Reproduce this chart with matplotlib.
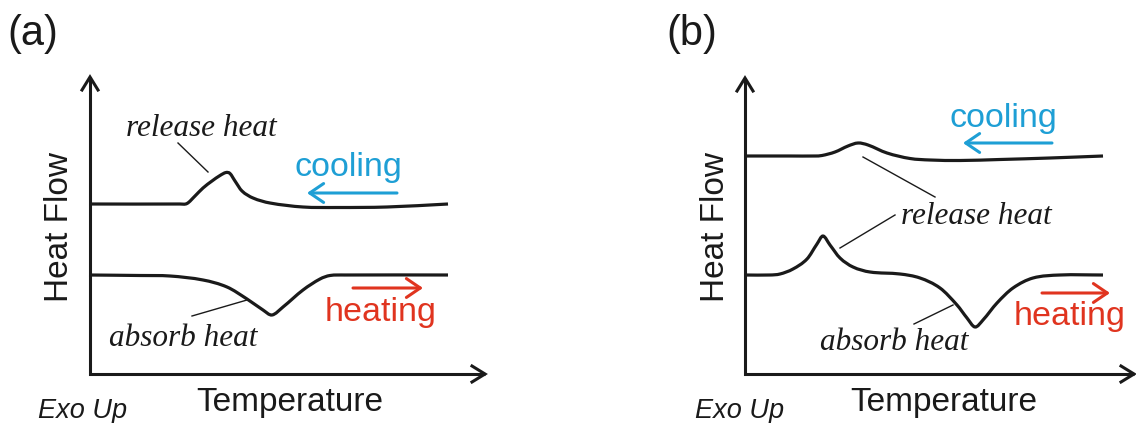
import matplotlib
matplotlib.use("Agg")
import matplotlib.pyplot as plt
from matplotlib.path import Path
from matplotlib.patches import PathPatch

# ---- DSC schematic traces (x: temperature position, y: heat-flow position, screen units) ----
# panel (a)
cool_a_x = [89, 180, 187, 195, 203, 212, 220, 226, 230, 235, 242, 253, 270, 303, 337, 387, 448]
cool_a_y = [204, 204, 203.5, 196, 188, 181, 175.5, 172.5, 173.5, 181, 191, 198, 203, 207, 207.5, 207, 204]
heat_a_x = [89, 140, 170, 203, 227, 247, 263, 272, 283, 303, 320, 330, 345, 448]
heat_a_y = [275, 275.5, 276, 280, 287, 299, 310, 315, 307, 290, 279, 275.5, 275, 275]
# panel (b)
cool_b_x = [745, 790, 815, 822, 835, 848, 858, 868, 887, 910, 930, 960, 1000, 1050, 1103]
cool_b_y = [156, 156, 156, 155.5, 152, 146, 143, 145, 153, 158.5, 160, 160.5, 159.5, 158, 156]
heat_b_x = [745, 770, 780, 793, 807, 817, 823, 830, 840, 853, 870, 900, 920, 940, 957, 967, 975,
            983, 997, 1013, 1033, 1060, 1103]
heat_b_y = [275, 275, 274, 269, 259, 244, 236, 245, 258, 267, 272, 274, 278, 288, 305, 318, 327,
            320, 303, 288, 278, 275, 275]

panel_labels = ["(a)", "(b)"]
y_label = "Heat Flow"
x_label = "Temperature"
exo_label = "Exo Up"
release_label = "release heat"
absorb_label = "absorb heat"
cool_label = "cooling"
heat_label = "heating"

INK = "#1a1a1a"
BLUE = "#1E9FD5"
RED = "#E0341F"
SANS = "Liberation Sans"
SERIF = "Liberation Serif"

fig = plt.figure(figsize=(11.36, 4.23), dpi=100)
ax = fig.add_axes([0, 0, 1, 1])
ax.set_xlim(0, 1136)
ax.set_ylim(423, 0)
ax.axis("off")


def smooth_trace(xs, ys, lw=2.3, color=INK):
    """Draw a smooth curve through the points as cubic Hermite segments in x."""
    n = len(xs)
    slopes = []
    for i in range(n):
        if i == 0:
            s = (ys[1] - ys[0]) / (xs[1] - xs[0])
        elif i == n - 1:
            s = (ys[-1] - ys[-2]) / (xs[-1] - xs[-2])
        else:
            s = (ys[i + 1] - ys[i - 1]) / (xs[i + 1] - xs[i - 1])
        slopes.append(s)
    verts = [(xs[0], ys[0])]
    codes = [Path.MOVETO]
    for i in range(n - 1):
        dx = xs[i + 1] - xs[i]
        c1 = (xs[i] + dx / 3.0, ys[i] + slopes[i] * dx / 3.0)
        c2 = (xs[i + 1] - dx / 3.0, ys[i + 1] - slopes[i + 1] * dx / 3.0)
        verts += [c1, c2, (xs[i + 1], ys[i + 1])]
        codes += [Path.CURVE4] * 3
    ax.add_patch(PathPatch(Path(verts, codes), fill=False, lw=lw, ec=color,
                           capstyle="butt", joinstyle="round"))


def frame(x0, y0, ytop, xright):
    # axes lines with open arrowheads
    ax.plot([x0, x0, xright], [ytop, y0, y0], color=INK, lw=2.2,
            solid_joinstyle="miter", solid_capstyle="butt")
    ax.plot([x0 - 8, x0, x0 + 8], [ytop + 13, ytop, ytop + 13], color=INK, lw=2.2,
            solid_joinstyle="miter")
    ax.plot([xright - 13, xright, xright - 13], [y0 - 8, y0, y0 + 8], color=INK, lw=2.2,
            solid_joinstyle="miter")


def arrow(x_from, x_to, y, color):
    ax.annotate("", xy=(x_to, y), xytext=(x_from, y),
                arrowprops=dict(arrowstyle="->,head_length=0.5,head_width=0.34",
                                lw=2.2, color=color, mutation_scale=20,
                                shrinkA=0, shrinkB=0))


def leader(x1, y1, x2, y2):
    ax.plot([x1, x2], [y1, y2], color=INK, lw=1.0)


# ---------------- panel (a) ----------------
frame(90, 374, 77, 485)
smooth_trace(cool_a_x, cool_a_y)
smooth_trace(heat_a_x, heat_a_y)
leader(178, 143, 208, 172)
leader(192, 316, 247, 300)
arrow(397, 307, 193, BLUE)
arrow(353, 423, 288, RED)

ax.text(7, 34, panel_labels[0], fontsize=30, family=SANS, color=INK, ha="left", va="center")
ax.text(201, 128, release_label, fontsize=22.5, family=SERIF, style="italic", color=INK,
        ha="center", va="center")
ax.text(183, 338, absorb_label, fontsize=22.5, family=SERIF, style="italic", color=INK,
        ha="center", va="center")
ax.text(348, 167.5, cool_label, fontsize=24.5, family=SANS, color=BLUE, ha="center", va="center")
ax.text(381, 312, heat_label, fontsize=24.5, family=SANS, color=RED, ha="center", va="center")
ax.text(59.5, 227, y_label, fontsize=24, family=SANS, color=INK, rotation=90,
        ha="center", va="center")
ax.text(290, 402.5, x_label, fontsize=24, family=SANS, color=INK, ha="center", va="center")
ax.text(83, 411, exo_label, fontsize=19.5, family=SANS, style="italic", color=INK,
        ha="center", va="center")

# ---------------- panel (b) ----------------
frame(745, 374, 78, 1134)
smooth_trace(cool_b_x, cool_b_y)
smooth_trace(heat_b_x, heat_b_y)
leader(863, 157, 935, 197)
leader(840, 248, 895, 215)
leader(914, 324, 953, 305)
arrow(1052, 963, 143, BLUE)
arrow(1042, 1110, 293, RED)

ax.text(666, 34, panel_labels[1], fontsize=30, family=SANS, color=INK, ha="left", va="center")
ax.text(976, 216.5, release_label, fontsize=22.5, family=SERIF, style="italic", color=INK,
        ha="center", va="center")
ax.text(894, 343, absorb_label, fontsize=22.5, family=SERIF, style="italic", color=INK,
        ha="center", va="center")
ax.text(1003, 118, cool_label, fontsize=24.5, family=SANS, color=BLUE, ha="center", va="center")
ax.text(1070, 316, heat_label, fontsize=24.5, family=SANS, color=RED, ha="center", va="center")
ax.text(715, 227, y_label, fontsize=24, family=SANS, color=INK, rotation=90,
        ha="center", va="center")
ax.text(943.5, 402.5, x_label, fontsize=24, family=SANS, color=INK, ha="center", va="center")
ax.text(740, 411, exo_label, fontsize=19.5, family=SANS, style="italic", color=INK,
        ha="center", va="center")

fig.savefig("out.png", dpi=100, facecolor="white")
